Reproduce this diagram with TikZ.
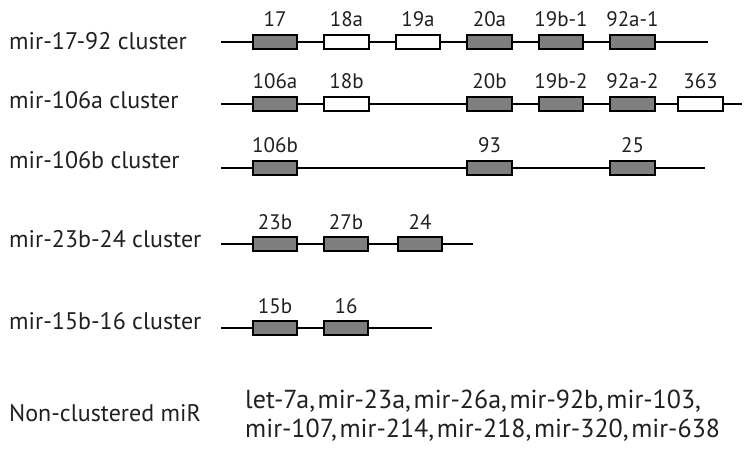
\documentclass[tikz,border=0pt]{standalone}
\usepackage{fontspec}
\setmainfont{PT Sans}
\definecolor{boxgray}{HTML}{7F7F7F}
\definecolor{txt}{HTML}{231F20}
\newcommand\mylistfont{\fontsize{26}{30}\selectfont\spaceskip=0.1em\relax}
\begin{document}
\begin{tikzpicture}[x=1pt,y=-1pt,
  gbox/.style={draw=black, line width=2pt, fill=boxgray, minimum width=44.5pt, minimum height=14pt, inner sep=0pt},
  wbox/.style={gbox, fill=white},
  num/.style={font=\fontsize{21}{24}\selectfont, anchor=base, inner sep=0pt, text=txt},
  clab/.style={font=\fontsize{24}{28}\selectfont, anchor=base west, inner sep=0pt, text=txt},
  lst/.style={font=\mylistfont, anchor=base west, inner sep=0pt, text=txt},
  strand/.style={line width=2pt, draw=black}]
\useasboundingbox (0,0) rectangle (744,452);

% row labels
\node[clab] (l1) at (9,49) {mir-17-92 cluster};
\node[clab] (l2) at (9,108) {mir-106a cluster};
\node[clab] (l3) at (9,168) {mir-106b cluster};
\node[clab] (l4) at (9,247) {mir-23b-24 cluster};
\node[clab] (l5) at (9,329) {mir-15b-16 cluster};
\node[clab] (l6) at (9,421) {Non-clustered miR};

% row 1
\coordinate (r1s) at (221,42);
\coordinate (r1e) at (708,42);
\draw[strand] (r1s) -- (r1e);
\node[gbox] (b17) at (275,42) {};
\node[wbox] (b18a) at (346.5,42) {};
\node[wbox] (b19a) at (418,42) {};
\node[gbox] (b20a) at (489.5,42) {};
\node[gbox] (b19b1) at (561,42) {};
\node[gbox] (b92a1) at (632.5,42) {};
\node[num] (t17) at (275,27) {17};
\node[num] (t18a) at (346.5,27) {18a};
\node[num] (t19a) at (418,27) {19a};
\node[num] (t20a) at (489.5,27) {20a};
\node[num] (t19b1) at (561,27) {19b-1};
\node[num] (t92a1) at (632.5,27) {92a-1};

% row 2
\coordinate (r2s) at (221,103.5);
\coordinate (r2e) at (742,103.5);
\draw[strand] (r2s) -- (r2e);
\node[gbox] (b106a) at (275,103.5) {};
\node[wbox] (b18b) at (346.5,103.5) {};
\node[gbox] (b20b) at (489.5,103.5) {};
\node[gbox] (b19b2) at (561,103.5) {};
\node[gbox] (b92a2) at (632.5,103.5) {};
\node[wbox] (b363) at (700.5,103.5) {};
\node[num] (t106a) at (275,88.5) {106a};
\node[num] (t18b) at (346.5,88.5) {18b};
\node[num] (t20b) at (489.5,88.5) {20b};
\node[num] (t19b2) at (561,88.5) {19b-2};
\node[num] (t92a2) at (632.5,88.5) {92a-2};
\node[num] (t363) at (700.5,88.5) {363};

% row 3
\coordinate (r3s) at (221,167.5);
\coordinate (r3e) at (705,167.5);
\draw[strand] (r3s) -- (r3e);
\node[gbox] (b106b) at (275,167.5) {};
\node[gbox] (b93) at (489.5,167.5) {};
\node[gbox] (b25) at (632.5,167.5) {};
\node[num] (t106b) at (275,152.5) {106b};
\node[num] (t93) at (489.5,152.5) {93};
\node[num] (t25) at (632.5,152.5) {25};

% row 4
\coordinate (r4s) at (221,244);
\coordinate (r4e) at (473,244);
\draw[strand] (r4s) -- (r4e);
\node[gbox] (b23b) at (275,244) {};
\node[gbox] (b27b) at (346,244) {};
\node[gbox] (b24) at (420,244) {};
\node[num] (t23b) at (275,229) {23b};
\node[num] (t27b) at (346,229) {27b};
\node[num] (t24) at (420,229) {24};

% row 5
\coordinate (r5s) at (221,328);
\coordinate (r5e) at (432,328);
\draw[strand] (r5s) -- (r5e);
\node[gbox] (b15b) at (275,328) {};
\node[gbox] (b16) at (346,328) {};
\node[num] (t15b) at (275,313) {15b};
\node[num] (t16) at (346,313) {16};

% non-clustered list
\node[lst] (nc1) at (245,408) {let-7a, mir-23a, mir-26a, mir-92b, mir-103,};
\node[lst] (nc2) at (245,437) {mir-107, mir-214, mir-218, mir-320, mir-638};
\end{tikzpicture}
\end{document}
